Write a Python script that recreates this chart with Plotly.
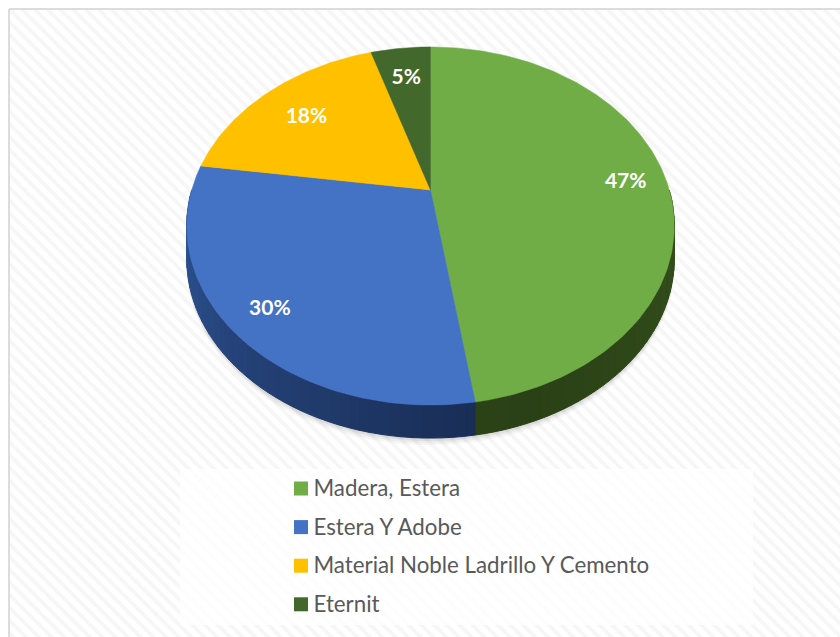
import math
import plotly.graph_objects as go

# ---- data ----
categories = ["Madera, Estera", "Estera Y Adobe", "Material Noble Ladrillo Y Cemento", "Eternit"]
slice_values = [47.6, 29.7, 17.9, 4.8]
percent_labels = ["47%", "30%", "18%", "5%"]
colors = ["#70AD47", "#4472C4", "#FFC000", "#43682B"]
wall_light = ["#3A5A1F", "#2F5597", "#A67C00", "#2C4319"]
wall_dark = ["#2A4016", "#172A50", "#A67C00", "#2C4319"]
label_radius = [0.83, 0.84, 0.75, 0.78]

# ---- tilted-disc geometry (canvas pixel axes) ----
APEX_X, APEX_Y = 430.5, 190
A, B, K = 171.8, 238.8, 0.2011
DEPTH = 33
W, H = 840, 637


def project(frac, r=1.0):
    """Map a share of the circle (clockwise from 12 o'clock) to the tilted disc."""
    t = 2 * math.pi * frac
    X, Y = r * math.sin(t), r * math.cos(t)
    den = 1 + K * Y
    return APEX_X + B * X / den, APEX_Y - A * Y / den


def mix(c1, c2, t):
    a = [int(c1[i:i + 2], 16) for i in (1, 3, 5)]
    b = [int(c2[i:i + 2], 16) for i in (1, 3, 5)]
    return "rgb(%d,%d,%d)" % tuple(round(p + (q - p) * t) for p, q in zip(a, b))


fig = go.Figure()

# textured background
fig.add_trace(go.Bar(
    x=[(9 + W) / 2], y=[H - 9], width=[W - 9], base=9,
    marker=dict(color="white", line_width=0,
                pattern=dict(shape="\\", size=9, solidity=0.42, fgcolor="#EDEDED", bgcolor="white")),
    hoverinfo="skip", showlegend=False))
# lighter legend panel
fig.add_trace(go.Bar(
    x=[(180 + 753) / 2], y=[625 - 469], width=[753 - 180], base=469,
    marker=dict(color="rgba(255,255,255,0.72)", line_width=0),
    hoverinfo="skip", showlegend=False))

# soft shadow below the wall
rim = [project(i / 240) for i in range(241)]
for extra, alpha in [(7, 0.03), (5, 0.04), (3, 0.06), (1, 0.08)]:
    fig.add_trace(go.Scatter(
        x=[p[0] for p in rim], y=[p[1] + DEPTH + extra for p in rim],
        mode="lines", fill="toself", fillcolor=f"rgba(0,0,0,{alpha})",
        line=dict(width=0), hoverinfo="skip", showlegend=False))

# side wall and top face
total = sum(slice_values)
starts = []
c = 0.0
for v in slice_values:
    starts.append(c)
    c += v / total

STRIPS = 48
for i, v in enumerate(slice_values):
    f0, f1 = starts[i], starts[i] + v / total
    lo, hi = max(f0, 0.25), min(f1, 0.75)
    if lo >= hi:
        continue
    for s in range(STRIPS):
        a0 = lo + (hi - lo) * s / STRIPS
        a1 = lo + (hi - lo) * (s + 1) / STRIPS
        pts = [project(a0 + (a1 - a0) * j / 3) for j in range(4)]
        xs = [p[0] for p in pts] + [p[0] for p in pts[::-1]]
        ys = [p[1] for p in pts] + [p[1] + DEPTH for p in pts[::-1]]
        mid = (a0 + a1) / 2
        t = min(1, abs(mid - 0.45) / 0.3)  # darkest near the front
        col = mix(wall_dark[i], wall_light[i], t)
        fig.add_trace(go.Scatter(
            x=xs + xs[:1], y=ys + ys[:1], mode="lines", fill="toself", fillcolor=col,
            line=dict(color=col, width=1), hoverinfo="skip", showlegend=False))

for i, v in enumerate(slice_values):
    f0, f1 = starts[i], starts[i] + v / total
    n = max(2, int(v * 4))
    pts = [project(f0 + (f1 - f0) * j / n) for j in range(n + 1)]
    xs = [APEX_X] + [p[0] for p in pts] + [APEX_X]
    ys = [APEX_Y] + [p[1] for p in pts] + [APEX_Y]
    fig.add_trace(go.Scatter(
        x=xs, y=ys, mode="lines", fill="toself", fillcolor=colors[i],
        line=dict(color=colors[i], width=0.5), name=categories[i],
        hoverinfo="name", showlegend=False))

# percentage labels
LABEL_DY = 3.5
lx, ly = [], []
for i, v in enumerate(slice_values):
    px, py = project(starts[i] + v / total / 2, label_radius[i])
    lx.append(px)
    ly.append(py + LABEL_DY)
fig.add_trace(go.Scatter(
    x=lx, y=ly, mode="text", text=percent_labels, textposition="middle center",
    textfont=dict(family="Lato", size=21, color="white", weight="bold"),
    hoverinfo="skip", showlegend=False))

# legend entries
LEG_X, LEG_Y0, LEG_DY = 301, 488.5, 38.6
leg_y = [LEG_Y0 + LEG_DY * i for i in range(4)]
fig.add_trace(go.Scatter(
    x=[LEG_X] * 4, y=leg_y, mode="markers",
    marker=dict(symbol="square", size=14, color=colors, line_width=0),
    hoverinfo="skip", showlegend=False))
fig.add_trace(go.Scatter(
    x=[LEG_X + 12.5] * 4, y=[v + 2 for v in leg_y], mode="text", text=categories,
    textposition="middle right",
    textfont=dict(family="Lato", size=22.3, color="#595959"),
    hoverinfo="skip", showlegend=False))

fig.update_layout(
    width=W, height=H, margin=dict(l=0, r=0, t=0, b=0),
    paper_bgcolor="white", plot_bgcolor="rgba(0,0,0,0)", showlegend=False, barmode="overlay",
    xaxis=dict(range=[0, W], visible=False, fixedrange=True),
    yaxis=dict(range=[H, 0], visible=False, fixedrange=True),
    shapes=[
        dict(type="line", x0=9, x1=W, y0=9, y1=9, layer="above", line=dict(color="#DCDCDC", width=2)),
        dict(type="line", x0=9, x1=9, y0=9, y1=H, layer="above", line=dict(color="#DCDCDC", width=2)),
    ],
)
fig.write_html("out.html", config={"displayModeBar": False},
               post_script="document.body.style.margin='0';")
